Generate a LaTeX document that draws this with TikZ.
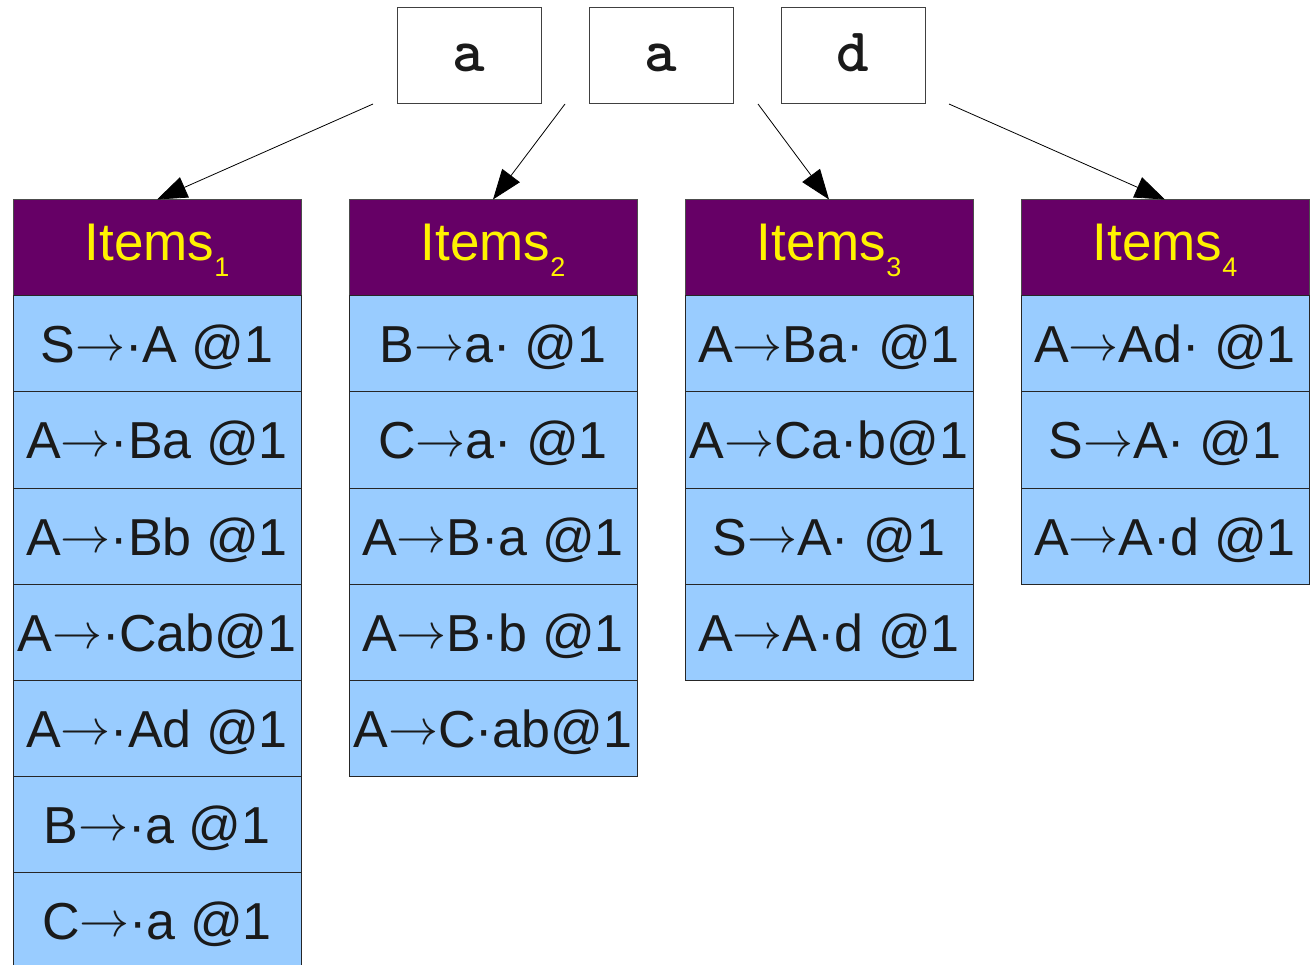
\documentclass[tikz,border=0pt]{standalone}
\usepackage{fontspec}
\setmainfont{Liberation Sans}
\usetikzlibrary{arrows.meta}
\definecolor{hdrc}{HTML}{660066}
\definecolor{itmc}{HTML}{99CCFF}
\definecolor{txtc}{HTML}{1A1A1A}
\newcommand\itemsub[1]{\raisebox{-16pt}{\fontsize{27}{27}\selectfont #1}}
\newcommand\tarr{\raisebox{2.5pt}{\resizebox{50pt}{!}{$\rightarrow$}}}
\begin{document}
\begin{tikzpicture}[x=1pt,y=-1pt,
  tok/.style={draw=black!75, line width=1pt, fill=white, minimum width=144pt, minimum height=96pt, inner sep=0pt,
    font=\ttfamily\bfseries\addfontfeatures{FakeBold=1.5}\fontsize{62}{62}\selectfont, text=txtc, text height=32pt, text depth=0pt},
  hdr/.style={draw=black!70, line width=1pt, fill=hdrc, minimum width=288pt, minimum height=96pt, inner sep=0pt,
    text=yellow, font=\fontsize{53}{53}\selectfont, text height=26pt, text depth=0pt},
  itm/.style={draw=black!85, line width=1pt, fill=itmc, minimum width=288pt, minimum height=96pt, inner sep=0pt,
    text=txtc, font=\fontsize{52}{52}\selectfont, text height=38pt, text depth=0pt},
  arr/.style={-{Triangle[length=30pt,width=22pt]}, line width=0.8pt, draw=black}]
\useasboundingbox (0,0) rectangle (1315,965);
\clip (0,0) rectangle (1315,965);
% tokens
\node[tok] (t1) at (469,56) {a};
\node[tok] (t2) at (661,56) {a};
\node[tok] (t3) at (853,56) {d};
% headers
\node[hdr] (h1) at (157,248) {Items\itemsub{1}};
\node[hdr] (h2) at (493,248) {Items\itemsub{2}};
\node[hdr] (h3) at (829,248) {Items\itemsub{3}};
\node[hdr] (h4) at (1165,248) {Items\itemsub{4}};
% column 1
\foreach \t [count=\i] in {S\tarr·A @1, A\tarr·Ba @1, A\tarr·Bb @1, A\tarr·Cab@1, A\tarr·Ad @1, B\tarr·a @1, C\tarr·a @1}
  \node[itm] (a\i) at (157,{248+96*\i}) {\t};
% column 2
\foreach \t [count=\i] in {B\tarr a· @1, C\tarr a· @1, A\tarr B·a @1, A\tarr B·b @1, A\tarr C·ab@1}
  \node[itm] (b\i) at (493,{248+96*\i}) {\t};
% column 3
\foreach \t [count=\i] in {A\tarr Ba· @1, A\tarr Ca·b@1, S\tarr A· @1, A\tarr A·d @1}
  \node[itm] (c\i) at (829,{248+96*\i}) {\t};
% column 4
\foreach \t [count=\i] in {A\tarr Ad· @1, S\tarr A· @1, A\tarr A·d @1}
  \node[itm] (d\i) at (1165,{248+96*\i}) {\t};
% arrows
\coordinate (s1) at (373,104);
\coordinate (s2) at (565,104);
\coordinate (s3) at (758,104);
\coordinate (s4) at (949,104);
\draw[arr] (s1) -- (h1.north);
\draw[arr] (s2) -- (h2.north);
\draw[arr] (s3) -- (h3.north);
\draw[arr] (s4) -- (h4.north);
\end{tikzpicture}
\end{document}
